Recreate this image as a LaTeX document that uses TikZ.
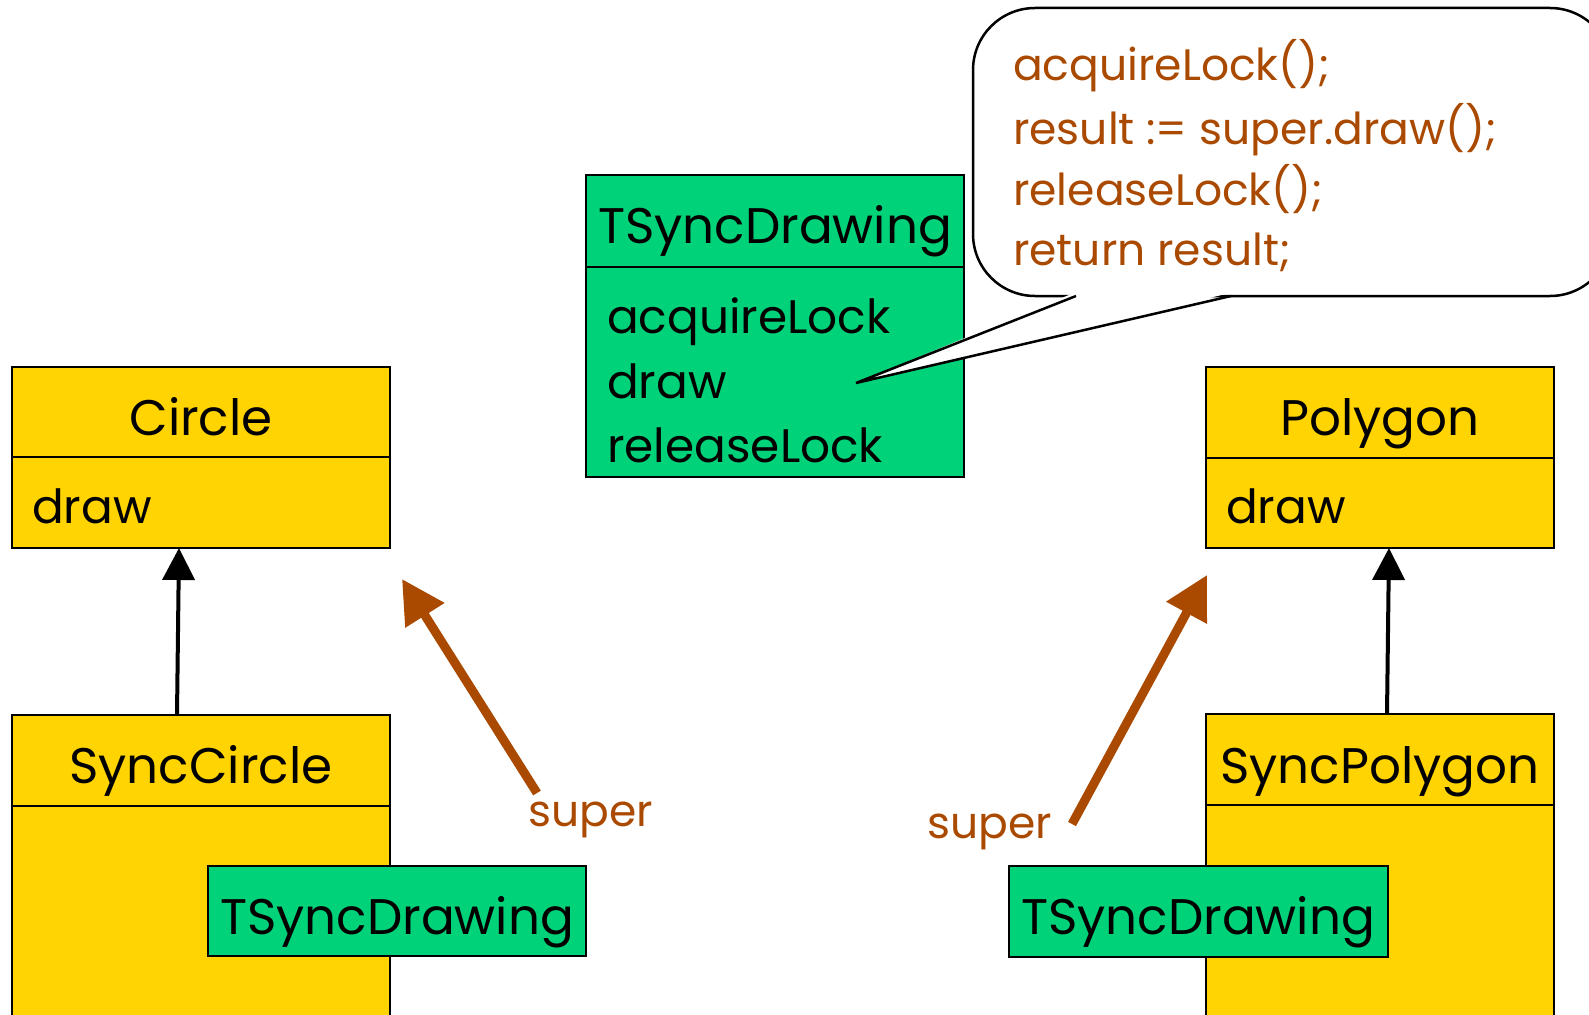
\documentclass[tikz,border=0pt]{standalone}
\usepackage{fontspec}
\setmainfont{Poppins}
\usetikzlibrary{arrows.meta}
\definecolor{classyellow}{RGB}{255,212,0}
\definecolor{mixgreen}{RGB}{0,210,122}
\definecolor{codebrown}{RGB}{170,74,0}
\begin{document}
\begin{tikzpicture}[x=1pt,y=-1pt,
  box/.style={draw=black,line width=2.4pt,inner sep=0pt,outer sep=0pt,anchor=north west},
  ybox/.style={box,fill=classyellow},
  gbox/.style={box,fill=mixgreen},
  cname/.style={font=\fontsize{50}{56}\selectfont,text=black,anchor=base,inner sep=0pt},
  meth/.style={font=\fontsize{47}{52}\selectfont,text=black,anchor=base west,inner sep=0pt},
  code/.style={font=\fontsize{44}{50}\selectfont,text=codebrown,anchor=base west,inner sep=0pt},
  superlabel/.style={font=\fontsize{44}{50}\selectfont,text=codebrown,anchor=base,inner sep=0pt},
  inherit/.style={line width=4pt,-{Triangle[length=32pt,width=32pt]}},
  superarrow/.style={draw=codebrown,line width=9pt,-{Triangle[length=43pt,width=44pt]}},
  callout/.style={draw=black,line width=2.5pt,fill=white}]
\useasboundingbox (0,0) rectangle (1589,1014);
\clip (0,0) rectangle (1589,1014);

% Circle
\node[ybox,minimum width=378pt,minimum height=90pt] (circleHead) at (12,367) {};
\node[ybox,minimum width=378pt,minimum height=91pt] (circleBody) at (12,457) {};
\node[cname] (circleName) at (201,435) {Circle};
\node[meth] (circleDraw) at (32,523) {draw};

% SyncCircle with its mixin part
\node[ybox,minimum width=378pt,minimum height=91pt] (syncCircleHead) at (12,715) {};
\node[ybox,minimum width=378pt,minimum height=220pt] (syncCircleBody) at (12,806) {};
\node[cname] (syncCircleName) at (201,783) {SyncCircle};
\node[gbox,minimum width=378pt,minimum height=90pt] (mixinLeft) at (208,866) {};
\node[cname] (mixinLeftName) at (397,934) {TSyncDrawing};

% Polygon
\node[ybox,minimum width=348pt,minimum height=91pt] (polygonHead) at (1206,367) {};
\node[ybox,minimum width=348pt,minimum height=90pt] (polygonBody) at (1206,458) {};
\node[cname] (polygonName) at (1380,435) {Polygon};
\node[meth] (polygonDraw) at (1226,523) {draw};

% SyncPolygon with its mixin part
\node[ybox,minimum width=348pt,minimum height=91pt] (syncPolygonHead) at (1206,714) {};
\node[ybox,minimum width=348pt,minimum height=220pt] (syncPolygonBody) at (1206,805) {};
\node[cname] (syncPolygonName) at (1380,783) {SyncPolygon};
\node[gbox,minimum width=379pt,minimum height=91pt] (mixinRight) at (1009,866) {};
\node[cname] (mixinRightName) at (1198,934) {TSyncDrawing};

% TSyncDrawing mixin class
\node[gbox,minimum width=378pt,minimum height=92pt] (mixinHead) at (586,175) {};
\node[gbox,minimum width=378pt,minimum height=210pt] (mixinBody) at (586,267) {};
\node[cname] (mixinName) at (775,243) {TSyncDrawing};
\node[meth] (mAcquire) at (607,333) {acquireLock};
\node[meth] (mDraw) at (607,398) {draw};
\node[meth] (mRelease) at (607,462) {releaseLock};

% speech bubble with the body of draw
\draw[callout,rounded corners=62pt] (973,8) rectangle (1612,296);
\fill[white] (1075,292.5) -- (856,383) -- (1232,292.5) -- cycle;
\draw[line width=2.5pt,line join=miter] (1076,296) -- (856,383) -- (1231,296);
\node[code] (code1) at (1013,81) {acquireLock();};
\node[code] (code2) at (1013,144) {result := super.draw();};
\node[code] (code3) at (1013,205) {releaseLock();};
\node[code] (code4) at (1013,265) {return result;};

% inheritance
\draw[inherit] ([xshift=-24pt]syncCircleHead.north) -- ([xshift=-22pt]circleBody.south);
\draw[inherit] ([xshift=7pt]syncPolygonHead.north) -- ([xshift=9pt]polygonBody.south);

% super calls
\node[superlabel] (superLeft) at (591,826) {super};
\node[superlabel] (superRight) at (990,838) {super};
\coordinate (superLeftTail) at (537,793);
\coordinate (superLeftTip) at (402,579);
\coordinate (superRightTail) at (1072,824);
\coordinate (superRightTip) at (1207,575);
\draw[superarrow] (superLeftTail) -- (superLeftTip);
\draw[superarrow] (superRightTail) -- (superRightTip);
\end{tikzpicture}
\end{document}
